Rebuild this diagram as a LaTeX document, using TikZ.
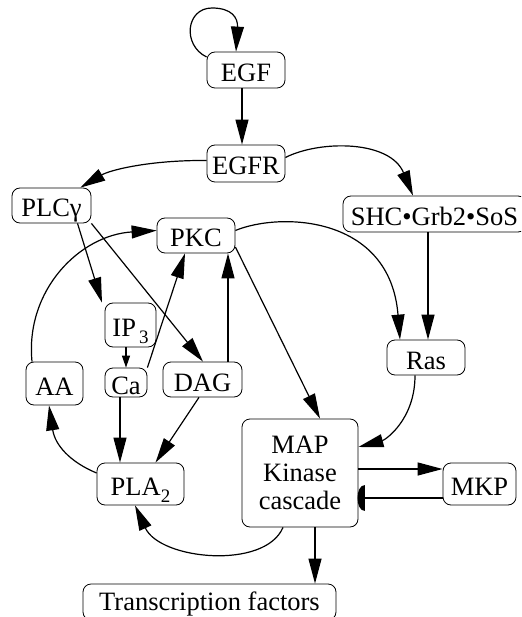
\documentclass[tikz,border=0pt]{standalone}
\usepackage{fontspec}
\setmainfont{Liberation Serif}
\usetikzlibrary{arrows.meta,calc}
% lowered, smaller index as used in IP3 and PLA2
\newcommand{\lowsub}[1]{\raisebox{-7pt}{\fontsize{19}{19}\selectfont #1}}
\begin{document}
\begin{tikzpicture}[x=1pt,y=-1pt,
  stdbox/.style={draw, rounded corners=8pt, line width=0.8pt, inner sep=0pt,
    font=\fontsize{26.5}{28}\selectfont, text height=23pt, text depth=0pt},
  bigbox/.style={draw, rounded corners=8pt, line width=0.8pt, inner sep=0pt,
    font=\fontsize{26.5}{28}\selectfont, align=center},
  link/.style={line width=1.2pt, -{Triangle[length=25pt,width=13pt]}},
  smalllink/.style={line width=1.2pt, -{Triangle[length=12pt,width=8pt]}},
  plain/.style={line width=1.2pt},
]
\useasboundingbox (0,0) rectangle (521,617);
\clip (0,0) rectangle (521,617);

% ---- nodes ----
\node[stdbox, minimum width=78pt, minimum height=36pt] (EGF)  at (246,70)    {EGF};
\node[stdbox, minimum width=78pt, minimum height=37pt] (EGFR) at (246,163.5) {EGFR};
\node[stdbox, minimum width=79pt, minimum height=35pt] (PLC)  at (51.5,205.5) {PLCγ};
\node[stdbox, minimum width=78pt, minimum height=35pt] (PKC)  at (196,235.5) {PKC};
\node[stdbox, minimum width=183pt, minimum height=36pt] (SHC) at (434.5,214) {SHC•Grb2•SoS};
\node[stdbox, minimum width=78pt, minimum height=35pt] (Ras)  at (426,357.5) {Ras};
\node[stdbox, minimum width=51pt, minimum height=44pt] (IP3)  at (130.5,325) {IP\hspace{3pt}\lowsub{3}};
\node[stdbox, minimum width=42pt, minimum height=29pt] (Ca)   at (126,382.5) {Ca};
\node[stdbox, minimum width=79pt, minimum height=35pt] (DAG)  at (202.5,379.5) {DAG};
\node[stdbox, minimum width=57pt, minimum height=43pt] (AA)   at (54.5,383.5) {AA};
\node[stdbox, minimum width=87pt, minimum height=42pt] (PLA)  at (140.5,484) {PLA\lowsub{2}};
\node[bigbox, minimum width=116pt, minimum height=108pt] (MAP) at (300,473) {MAP\\Kinase\\cascade};
\node[stdbox, minimum width=73pt, minimum height=42pt] (MKP)  at (479.5,484) {MKP};
\node[stdbox, text height=17pt, minimum width=253pt, minimum height=36pt] (TF) at (209.5,602) {Transcription factors};

% ---- connectors ----
\draw[link] ($(EGF.west)+(0,-13)$) .. controls (182,45) and (186,8) .. (212,8)
            .. controls (232,8) and (238,18) .. ($(EGF.north)+(-10,0)$);
\draw[link] ($(EGF.south)+(-4,0)$) -- ($(EGFR.north)+(-4,0)$);
\draw[link] ($(EGFR.west)+(0,-3)$) .. controls (150,160) and (110,170) .. ($(PLC.north east)+(-11,0)$);
\draw[link] ($(EGFR.east)+(0,-6)$) .. controls (320,140) and (390,140) .. ($(SHC.north)+(-21.5,0)$);
\draw[link] ($(SHC.south)+(-6.5,0)$) -- ($(Ras.north)+(2,0)$);
\draw[link] ($(PKC.east)+(0,-5)$) .. controls (280,212) and (390,215) .. ($(Ras.north)+(-26,0)$);
\draw[link] ($(PKC.east)+(0,11.5)$) -- ($(MAP.north)+(20,0)$);
\draw[link] ($(Ras.south)+(-11,0)$) .. controls (415,420) and (385,440) .. ($(MAP.east)+(0,-26)$);
\draw[link] ($(MAP.east)+(0,-4)$) -- ($(MKP.west)+(0,-15)$);
% inhibition of the cascade by MKP
\coordinate (inh) at ($(MAP.east)+(7,25)$);
\draw[plain] ($(MKP.west)+(0,14)$) -- (inh);
\fill ($(inh)+(0,-13)$) .. controls +(-10.7,0) and +(-10.7,0) .. ($(inh)+(0,13)$) -- cycle;
\draw[link] ($(MAP.south)+(15,0)$) -- ($(TF.north)+(105.5,0)$);
\draw[link] ($(MAP.south)+(-17,0)$) .. controls (265,570) and (160,560) .. ($(PLA.south)+(-5.5,0)$);
\draw[link] ($(PLA.west)+(0,-11)$) .. controls (70,462) and (55,445) .. ($(AA.south)+(-5.5,0)$);
\draw[link] ($(DAG.south)+(-3.5,0)$) -- ($(PLA.north)+(15,0)$);
\draw[link] ($(Ca.south)+(-6,0)$) -- ($(PLA.north)+(-20.5,0)$);
\draw[smalllink] ($(IP3.south)+(-4.5,0)$) -- (Ca.north);
\draw[link] (Ca.north east) -- ($(PKC.south)+(-11,0)$);
\draw[link] ($(DAG.north)+(25.5,0)$) -- ($(PKC.south)+(32,0)$);
\draw[link] ($(PLC.south)+(26,0)$) -- ($(IP3.north)+(-28.5,0)$);
\draw[link] (PLC.south east) -- ($(DAG.north)+(0.5,0)$);
\draw[link] ($(AA.north)+(-22.5,0)$) .. controls (25,290) and (80,235) .. ($(PKC.west)+(0,-5)$);
\end{tikzpicture}
\end{document}
